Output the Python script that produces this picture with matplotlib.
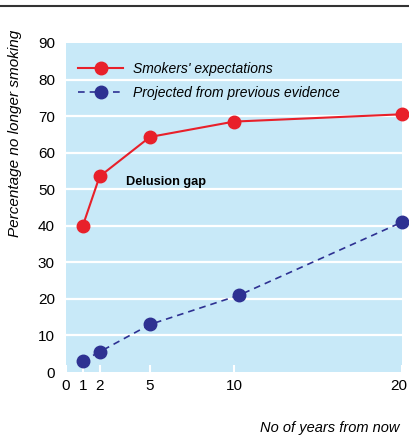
import matplotlib
matplotlib.use("Agg")
import matplotlib.pyplot as plt
import matplotlib.transforms as mtransforms
from matplotlib.lines import Line2D

plt.rcParams['font.family'] = ['Liberation Sans', 'DejaVu Sans']

years = [1, 2, 5, 10, 20]
smokers_expect = [40, 53.5, 64.3, 68.5, 70.5]
years_proj = [1, 2, 5, 10.3, 20]
projected = [3, 5.5, 13, 21, 41]
xticks = [0, 1, 2, 5, 10, 20]
yticks = [0, 10, 20, 30, 40, 50, 60, 70, 80, 90]

red = '#e8202a'
navy = '#2e3192'
bg = '#c8e9f8'

fig = plt.figure(figsize=(4.1, 4.36), dpi=100)
ax = fig.add_axes([66 / 410, 64 / 436, 336 / 410, 329 / 436])
ax.set_facecolor(bg)
ax.set_xlim(0, 20)
ax.set_ylim(0, 90)

for v in yticks[1:-1]:
    ax.axhline(v, color='white', lw=1.6, zorder=1)

ax.plot(years, smokers_expect, color=red, lw=1.5, marker='o', ms=9,
        label="Smokers' expectations", zorder=3, clip_on=False)
ax.plot(years_proj, projected, color=navy, lw=1.2, ls=(0, (4, 3)), marker='o', ms=9,
        label='Projected from previous evidence', zorder=3, clip_on=False)

ax.text(3.6, 52, 'Delusion gap', fontsize=9.2, fontweight='bold', va='center')

for s in ax.spines.values():
    s.set_visible(False)

ax.set_xticks(xticks)
ax.set_xticklabels([str(t) for t in xticks], fontsize=11)
ax.set_yticks(yticks)
ax.set_yticklabels([str(t) for t in yticks], fontsize=11)
ax.tick_params(axis='x', direction='in', length=5, width=1.5, color='white', pad=5)
ax.tick_params(axis='y', length=0, pad=8)

# nudge the last x label so it stays inside the figure
last = ax.get_xticklabels()[-1]
last.set_transform(last.get_transform() +
                   mtransforms.ScaledTranslation(-3 / 100, 0, fig.dpi_scale_trans))

ax.legend(loc='upper left', bbox_to_anchor=(0.0, 0.98), frameon=False,
          prop={'style': 'italic', 'size': 10}, handlelength=3.2,
          labelspacing=0.7, handletextpad=0.7)

fig.text(400 / 410, 1 - 428 / 436, 'No of years from now', ha='right', va='center',
         fontsize=10.5, style='italic')
fig.text(15 / 410, 1 - 30 / 436, 'Percentage no longer smoking', rotation=90,
         ha='center', va='top', fontsize=11, style='italic')

fig.add_artist(Line2D([0, 1], [1 - 6 / 436, 1 - 6 / 436], color='#333333', lw=1.5))

fig.savefig('out.png', dpi=100)
